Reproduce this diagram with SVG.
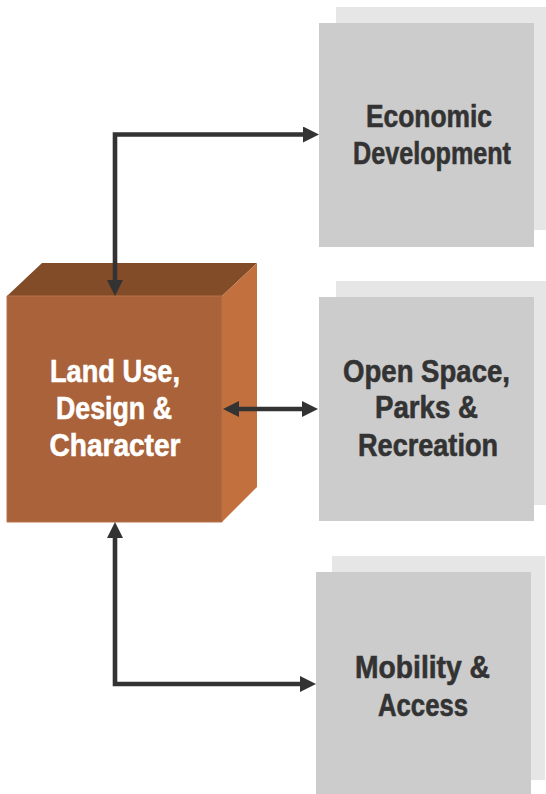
<svg xmlns="http://www.w3.org/2000/svg" width="546" height="794" viewBox="0 0 546 794">
  <style>
    .lbl { font-family: "Liberation Sans", Arial, sans-serif; font-weight: bold; font-size: 31px; text-anchor: middle; stroke-width: 0.6; }
    .dark { fill: #333333; stroke: #333333; }
    .light { fill: #ffffff; stroke: #ffffff; }
    .card { fill: #cccccc; }
    .card-back { fill: #e6e6e6; }
    .link { fill: none; stroke: #333333; stroke-width: 4.6; }
  </style>
  <defs>
    <marker id="head" markerUnits="userSpaceOnUse" markerWidth="16" markerHeight="16" refX="8" refY="8" orient="auto-start-reverse" viewBox="0 0 16 16">
      <path d="M0,0 L16,8 L0,16 z" fill="#333333"/>
    </marker>
  </defs>
  <rect width="546" height="794" fill="#ffffff"/>

  <!-- central cube -->
  <g id="land-use">
    <polygon points="7,296 42,263 257,263 222,296" fill="#834c29"/>
    <polygon points="222,296 257,263 257,487 222,522" fill="#c2703d"/>
    <polygon points="7,296 222,296 222,522 7,522" fill="#a9623a" stroke="#b87349" stroke-width="1"/>
    <text class="lbl light" transform="translate(115,382) scale(0.878,1)">Land Use,</text>
    <text class="lbl light" transform="translate(114,419) scale(0.863,1)">Design &amp;</text>
    <text class="lbl light" transform="translate(115,456) scale(0.905,1)">Character</text>
  </g>

  <g id="economic">
    <rect class="card-back" x="336" y="7" width="210" height="223"/>
    <rect class="card" x="319" y="23" width="215" height="224"/>
    <text class="lbl dark" transform="translate(429,127) scale(0.851,1)">Economic</text>
    <text class="lbl dark" transform="translate(432,164) scale(0.812,1)">Development</text>
  </g>

  <g id="open-space">
    <rect class="card-back" x="336" y="281" width="210" height="224"/>
    <rect class="card" x="319" y="297" width="215" height="224"/>
    <text class="lbl dark" transform="translate(426.5,382) scale(0.889,1)">Open Space,</text>
    <text class="lbl dark" transform="translate(426.5,418) scale(0.892,1)">Parks &amp;</text>
    <text class="lbl dark" transform="translate(428,456) scale(0.874,1)">Recreation</text>
  </g>

  <g id="mobility">
    <rect class="card-back" x="332" y="556" width="213" height="224"/>
    <rect class="card" x="316" y="572" width="215" height="222"/>
    <text class="lbl dark" transform="translate(422.5,678) scale(0.911,1)">Mobility &amp;</text>
    <text class="lbl dark" transform="translate(423,716) scale(0.829,1)">Access</text>
  </g>

  <!-- connectors -->
  <g id="connectors">
    <path class="link" d="M115,288 L115,134.5 L311,134.5" marker-start="url(#head)" marker-end="url(#head)"/>
    <path class="link" d="M231,409 L310,409" marker-start="url(#head)" marker-end="url(#head)"/>
    <path class="link" d="M115,530 L115,684 L308,684" marker-start="url(#head)" marker-end="url(#head)"/>
  </g>
</svg>
